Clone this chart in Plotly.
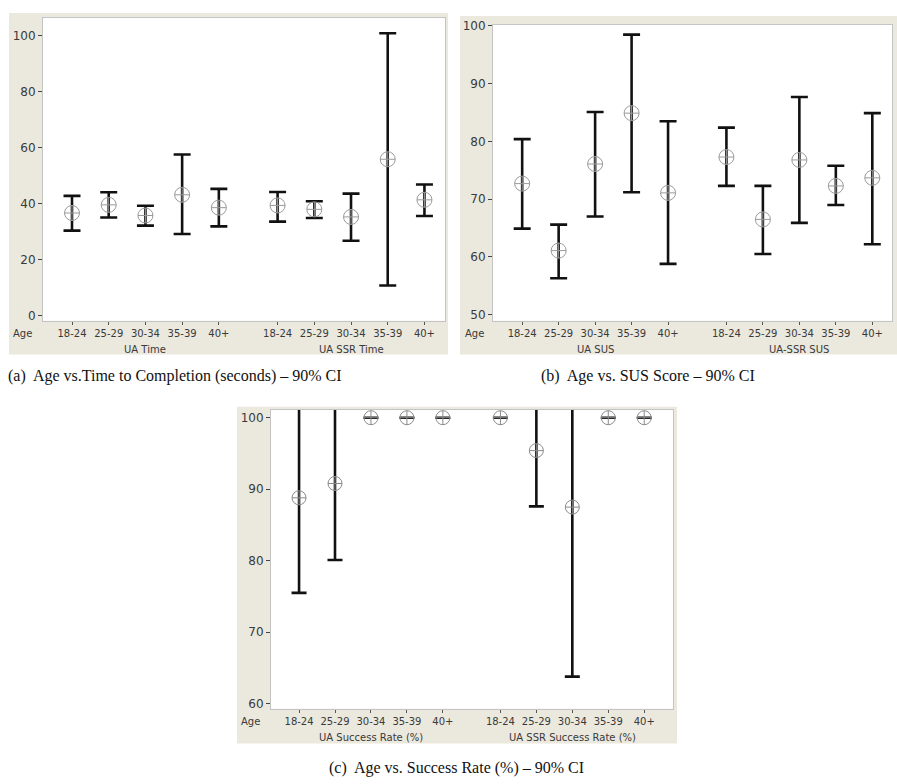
import plotly.graph_objects as go

W, H = 897, 784

ages = ["18-24", "25-29", "30-34", "35-39", "40+"]
group_gap = 0.6

# (a) Time to completion (seconds)
time_groups = ["UA Time", "UA SSR Time"]
time_mean = [36.7, 39.6, 35.8, 43.2, 38.6, 39.4, 38.0, 35.3, 55.9, 41.4]
time_low = [30.4, 35.1, 32.2, 29.2, 31.9, 33.6, 34.9, 26.8, 10.8, 35.6]
time_high = [42.8, 44.1, 39.3, 57.6, 45.3, 44.2, 40.9, 43.6, 100.9, 46.9]

# (b) SUS score
sus_groups = ["UA SUS", "UA-SSR SUS"]
sus_mean = [72.7, 61.1, 76.1, 84.9, 71.1, 77.3, 66.5, 76.8, 72.3, 73.7]
sus_low = [64.9, 56.3, 67.0, 71.2, 58.8, 72.3, 60.5, 65.9, 69.0, 62.2]
sus_high = [80.4, 65.6, 85.1, 98.5, 83.5, 82.4, 72.3, 87.7, 75.8, 84.9]

# (c) Success rate (%)
sr_groups = ["UA Success Rate (%)", "UA SSR Success Rate (%)"]
sr_mean = [88.8, 90.8, 100, 100, 100, 100, 95.4, 87.5, 100, 100]
sr_low = [75.5, 80.1, 100, 100, 100, 100, 87.6, 63.8, 100, 100]
sr_high = [102.1, 101.5, 100, 100, 100, 100, 103.2, 111.2, 100, 100]

captions = [
    "(a)  Age vs.Time to Completion (seconds) \u2013 90% CI",
    "(b)  Age vs. SUS Score \u2013 90% CI",
    "(c)  Age vs. Success Rate (%) \u2013 90% CI",
]

positions = [i for i in range(5)] + [5 + group_gap + i for i in range(5)]
labels = ages + ages

BEIGE = "#EBE8DD"
TXT = "#3a3a3a"

fig = go.Figure()

panels = [
    dict(ax="", mean=time_mean, low=time_low, high=time_high, groups=time_groups,
         box=(43, 445, 12, 318), bg=(9, 448, 7, 352), yr=[-1.8, 106.4],
         yt=[0, 20, 40, 60, 80, 100], xr=[-0.79, 10.16], cap=(175, 374), age_x=22,
         msize=15, mcol="#9a9a9a", cap_w=8.5),
    dict(ax="2", mean=sus_mean, low=sus_low, high=sus_high, groups=sus_groups,
         box=(493, 892, 19, 318), bg=(460, 897, 10, 352), yr=[48.95, 100.2],
         yt=[50, 60, 70, 80, 90, 100], xr=[-0.80, 10.14], cap=(648, 374), age_x=474,
         msize=15, mcol="#9a9a9a", cap_w=8.5),
    dict(ax="3", mean=sr_mean, low=sr_low, high=sr_high, groups=sr_groups,
         box=(271, 673, 408, 710), bg=(237, 677, 405, 745), yr=[59.3, 101.1],
         yt=[60, 70, 80, 90, 100], xr=[-0.78, 10.4], cap=(456, 770), age_x=250,
         msize=14, mcol="#8a8a8a", cap_w=7.5),
]

shapes = []
annotations = []
for p in panels:
    xa = "x" + p["ax"]
    ya = "y" + p["ax"]
    fig.add_trace(go.Scatter(
        x=positions, y=p["mean"], mode="markers",
        xaxis=xa, yaxis=ya, showlegend=False, cliponaxis=True,
        marker=dict(symbol="circle-cross-open", size=p["msize"], color=p["mcol"],
                    line=dict(width=1, color=p["mcol"])),
        error_y=dict(type="data", symmetric=False,
                     array=[h - m for h, m in zip(p["high"], p["mean"])],
                     arrayminus=[m - l for m, l in zip(p["mean"], p["low"])],
                     color="#111111", thickness=2.6, width=p["cap_w"]),
    ))
    x0, x1, y0, y1 = p["box"]
    dom_x = [x0 / W, x1 / W]
    dom_y = [1 - y1 / H, 1 - y0 / H]
    key = "xaxis" + p["ax"]
    ykey = "yaxis" + p["ax"]
    fig.layout[key] = dict(
        domain=dom_x, range=p["xr"], anchor=ya, tickmode="array",
        tickvals=positions, ticktext=labels, ticks="outside", ticklen=3,
        tickcolor="#555", tickfont=dict(family="DejaVu Sans", size=10, color=TXT),
        showgrid=False, zeroline=False, showline=True, linecolor="#c4c4c4",
        mirror=True, linewidth=1, fixedrange=True,
    )
    fig.layout[ykey] = dict(
        domain=dom_y, range=p["yr"], anchor=xa, tickmode="array",
        tickvals=p["yt"], ticks="outside", ticklen=4, tickcolor="#444",
        tickfont=dict(family="DejaVu Sans", size=12, color=TXT),
        showgrid=False, zeroline=False, showline=True, linecolor="#c4c4c4",
        mirror=True, linewidth=1, fixedrange=True,
    )
    bx0, bx1, by0, by1 = p["bg"]
    shapes.append(dict(type="rect", xref="paper", yref="paper", layer="below",
                       x0=bx0 / W, x1=bx1 / W, y0=1 - by1 / H, y1=1 - by0 / H,
                       fillcolor=BEIGE, line=dict(width=0)))
    shapes.append(dict(type="rect", xref="paper", yref="paper", layer="below",
                       x0=x0 / W, x1=x1 / W, y0=1 - y1 / H, y1=1 - y0 / H,
                       fillcolor="white", line=dict(width=0)))
    annotations.append(dict(text="Age", xref="paper", yref="paper",
                            x=p["age_x"] / W, y=1 - (y1 + 13) / H, showarrow=False,
                            xanchor="center", yanchor="middle",
                            font=dict(family="DejaVu Sans", size=10, color=TXT)))
    for gi, g in enumerate(p["groups"]):
        gpos = positions[gi * 5:(gi + 1) * 5]
        annotations.append(dict(text=g, xref=xa, yref="paper",
                                x=sum(gpos) / len(gpos), y=1 - (y1 + 29) / H,
                                showarrow=False, xanchor="center", yanchor="middle",
                                font=dict(family="DejaVu Sans", size=10, color=TXT)))

for p, c in zip(panels, captions):
    annotations.append(dict(text=c, xref="paper", yref="paper",
                            x=p["cap"][0] / W, y=1 - p["cap"][1] / H, showarrow=False,
                            xanchor="center", yanchor="middle",
                            font=dict(family="Liberation Serif", size=16, color="#111")))

fig.update_layout(
    width=W, height=H, margin=dict(l=0, r=0, t=0, b=0),
    paper_bgcolor="white", plot_bgcolor="white",
    shapes=shapes, annotations=annotations, showlegend=False,
)

fig.write_html(
    "out.html",
    config={"displayModeBar": False},
    post_script="document.body.style.margin='0';document.body.style.overflow='hidden';",
)
